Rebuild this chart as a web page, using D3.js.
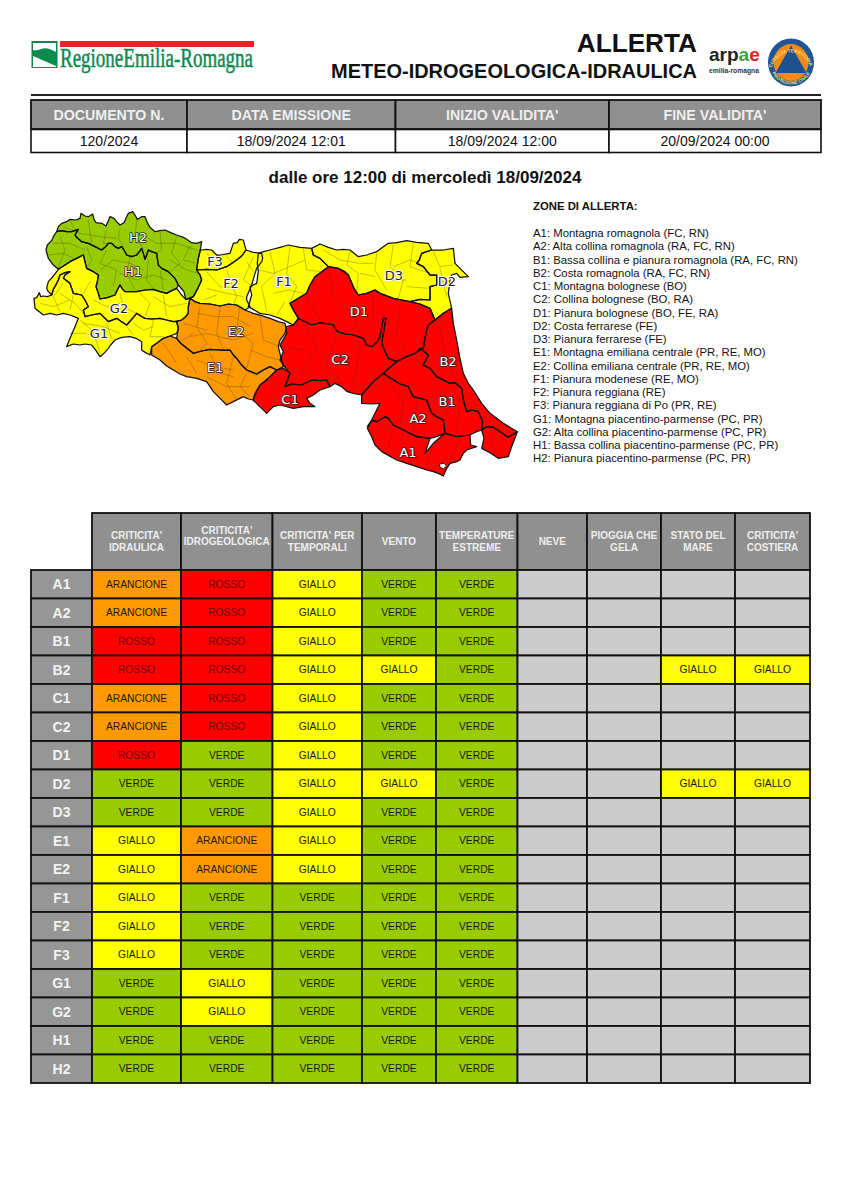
<!DOCTYPE html>
<html><head><meta charset="utf-8">
<script src="https://cdn.jsdelivr.net/npm/d3@7/dist/d3.min.js"></script>
<style>html,body{margin:0;background:#fff}svg{display:block}text{font-family:"Liberation Sans",Arial,sans-serif}</style>
</head><body><div id="c"></div>
<script>
// ---------- header data
const docHeaders=["DOCUMENTO N.","DATA EMISSIONE","INIZIO VALIDITA'","FINE VALIDITA'"];
const docValues=["120/2024","18/09/2024 12:01","18/09/2024 12:00","20/09/2024 00:00"];
const periodTitle="dalle ore 12:00 di mercoledì 18/09/2024";
const legendTitle="ZONE DI ALLERTA:";
const legendLines=["A1: Montagna romagnola (FC, RN)","A2: Alta collina romagnola (RA, FC, RN)","B1: Bassa collina e pianura romagnola (RA, FC, RN)","B2: Costa romagnola (RA, FC, RN)","C1: Montagna bolognese (BO)","C2: Collina bolognese (BO, RA)","D1: Pianura bolognese (BO, FE, RA)","D2: Costa ferrarese (FE)","D3: Pianura ferrarese (FE)","E1: Montagna emiliana centrale (PR, RE, MO)","E2: Collina emiliana centrale (PR, RE, MO)","F1: Pianura modenese (RE, MO)","F2: Pianura reggiana (RE)","F3: Pianura reggiana di Po (PR, RE)","G1: Montagna piacentino-parmense (PC, PR)","G2: Alta collina piacentino-parmense (PC, PR)","H1: Bassa collina piacentino-parmense (PC, PR)","H2: Pianura piacentino-parmense (PC, PR)"];
// ---------- table data
const zones=["A1","A2","B1","B2","C1","C2","D1","D2","D3","E1","E2","F1","F2","F3","G1","G2","H1","H2"];
const colHeaders=[["CRITICITA'","IDRAULICA"],["CRITICITA'","IDROGEOLOGICA",""],["CRITICITA' PER","TEMPORALI"],["VENTO"],["TEMPERATURE","ESTREME"],["NEVE"],["PIOGGIA CHE","GELA"],["STATO DEL","MARE"],["CRITICITA'","COSTIERA"]];
const V="VERDE",G="GIALLO",O="ARANCIONE",R="ROSSO",N="";
const idraulica=[O,O,R,R,O,O,R,V,V,G,G,G,G,G,V,V,V,V];
const idrogeologica=[R,R,R,R,R,R,V,V,V,O,O,V,V,V,G,G,V,V];
const temporali=[G,G,G,G,G,G,G,G,G,G,G,V,V,V,V,V,V,V];
const vento=[V,V,V,G,V,V,V,G,V,V,V,V,V,V,V,V,V,V];
const temperature=[V,V,V,V,V,V,V,V,V,V,V,V,V,V,V,V,V,V];
const neve=[N,N,N,N,N,N,N,N,N,N,N,N,N,N,N,N,N,N];
const pioggia=[N,N,N,N,N,N,N,N,N,N,N,N,N,N,N,N,N,N];
const mare=[N,N,N,G,N,N,N,G,N,N,N,N,N,N,N,N,N,N];
const costiera=[N,N,N,G,N,N,N,G,N,N,N,N,N,N,N,N,N,N];
const columns=[idraulica,idrogeologica,temporali,vento,temperature,neve,pioggia,mare,costiera];
const mapLevels=[R,R,R,R,R,R,R,G,G,O,O,G,G,G,G,G,V,V];
// ---------- map outlines (west and east survey frames)
const westZones={
H2:[[110,95],[115,80],[125,70],[140,65],[150,58],[168,60],[180,55],[183,40],[195,48],[205,50],[218,42],[222,58],[228,68],[245,70],[258,78],[265,62],[270,50],[282,55],[290,65],[300,75],[312,68],[318,55],[325,40],[338,35],[345,45],[352,58],[365,50],[375,50],[382,68],[390,82],[405,95],[420,92],[435,90],[452,98],[470,105],[490,112],[500,118],[515,128],[530,130],[545,125],[541,150],[535,175],[530,210],[540,225],[545,240],[535,262],[520,290],[497,298],[492,275],[475,255],[465,235],[445,215],[425,205],[415,195],[412,175],[410,160],[395,155],[385,150],[380,165],[375,178],[370,160],[365,145],[358,155],[350,165],[335,170],[320,165],[312,150],[305,140],[295,145],[285,140],[275,130],[265,130],[255,142],[245,150],[225,140],[205,130],[185,125],[170,112],[165,105],[175,88],[155,95],[140,95],[125,92]],
H1:[[78,150],[82,135],[95,122],[100,110],[110,95],[125,92],[140,95],[155,95],[175,88],[165,105],[170,112],[185,125],[205,130],[225,140],[245,150],[255,142],[265,130],[275,130],[285,140],[295,145],[305,140],[312,150],[320,165],[335,170],[350,165],[358,155],[365,145],[370,160],[375,178],[380,165],[385,150],[395,155],[410,160],[412,175],[415,195],[425,205],[445,215],[465,235],[475,255],[470,265],[455,272],[440,280],[420,275],[400,268],[375,270],[350,275],[335,275],[315,275],[308,268],[300,255],[293,268],[285,285],[262,293],[240,297],[235,280],[228,260],[232,245],[235,225],[220,215],[200,205],[195,185],[190,165],[170,175],[150,185],[135,195],[115,208],[100,195],[85,175]],
G2:[[190,165],[195,185],[200,205],[220,215],[235,225],[232,245],[228,260],[235,280],[240,297],[262,293],[285,285],[293,268],[300,255],[308,268],[315,275],[335,275],[350,275],[375,270],[400,268],[420,275],[440,280],[455,272],[470,265],[485,285],[497,298],[510,295],[505,320],[505,340],[495,352],[485,360],[460,365],[440,360],[420,355],[395,357],[375,355],[362,348],[350,340],[335,358],[320,375],[305,365],[290,355],[265,365],[250,350],[240,340],[215,345],[195,350],[190,330],[205,320],[195,300],[185,285],[160,280],[155,265],[150,250],[130,235],[135,225],[150,215],[135,218],[120,225],[115,240],[110,250],[100,268],[95,285],[85,275],[80,265],[85,245],[100,228],[115,208],[135,195],[150,185],[170,175]],
G1:[[42,295],[50,293],[58,278],[62,290],[70,288],[82,290],[95,285],[100,268],[110,250],[115,240],[120,225],[135,218],[150,215],[135,225],[130,235],[150,250],[155,265],[160,280],[185,285],[195,300],[205,320],[190,330],[195,350],[215,345],[240,340],[250,350],[265,365],[290,355],[305,365],[320,375],[335,358],[350,340],[362,348],[375,355],[395,357],[420,355],[440,360],[460,365],[470,365],[475,385],[470,400],[450,408],[430,415],[410,430],[395,440],[390,465],[372,455],[365,450],[365,425],[348,415],[330,410],[305,412],[285,420],[272,435],[265,445],[252,460],[240,470],[228,452],[215,435],[195,432],[180,435],[160,432],[140,440],[150,415],[165,380],[175,355],[150,345],[130,340],[110,345],[90,340],[70,345],[45,325]],
E1:[[395,440],[410,430],[430,415],[450,408],[470,415],[482,430],[495,440],[520,460],[545,453],[570,448],[600,450],[630,450],[640,465],[650,475],[665,495],[680,510],[710,522],[730,510],[750,500],[770,510],[745,535],[720,555],[710,575],[705,585],[700,600],[685,597],[670,590],[640,605],[620,615],[595,590],[580,575],[570,560],[560,545],[530,535],[500,530],[480,522],[460,510],[440,498],[420,480],[395,465]],
E2:[[510,295],[525,305],[540,310],[570,312],[600,318],[625,312],[650,315],[675,330],[700,340],[725,347],[750,355],[775,365],[795,370],[798,385],[795,400],[780,420],[775,440],[782,470],[790,500],[770,510],[750,500],[730,510],[710,522],[680,510],[665,495],[650,475],[640,465],[630,450],[600,450],[570,448],[545,453],[520,460],[495,440],[482,430],[470,415],[475,385],[470,365],[485,360],[495,352],[505,340],[505,320]],
F3:[[545,150],[560,148],[575,150],[590,165],[600,165],[630,160],[635,145],[640,130],[652,128],[658,118],[670,120],[678,150],[665,168],[650,180],[620,200],[590,210],[560,208],[530,210],[535,175],[541,150]],
F2:[[530,210],[560,208],[590,210],[620,200],[650,180],[665,168],[678,150],[700,157],[725,160],[728,175],[725,185],[710,205],[705,220],[695,255],[680,290],[680,300],[690,320],[675,330],[650,315],[625,312],[600,318],[570,312],[540,310],[525,305],[510,295],[520,290],[535,262],[545,240],[540,225]]};
const eastZones={
F1:[[-5,70],[10,65],[30,60],[60,52],[85,45],[120,52],[155,55],[160,75],[180,85],[205,110],[185,125],[165,140],[150,165],[140,190],[115,205],[90,220],[100,240],[115,265],[100,285],[80,275],[60,265],[30,255],[0,250],[-35,230],[-25,195],[-30,170],[-10,160],[-5,125],[-8,100]],
D3:[[155,55],[180,42],[205,52],[230,60],[250,58],[270,60],[295,80],[320,75],[350,65],[370,50],[385,40],[410,38],[440,32],[470,37],[505,40],[515,60],[500,65],[485,70],[478,90],[470,100],[490,110],[510,135],[530,135],[530,165],[510,170],[510,210],[480,208],[450,215],[400,205],[360,190],[345,180],[320,190],[295,195],[285,180],[280,170],[265,135],[235,115],[205,110],[180,85],[160,75]],
D2:[[515,60],[550,60],[580,55],[585,100],[600,115],[625,140],[600,142],[590,130],[575,135],[570,150],[565,190],[575,235],[550,250],[525,270],[510,235],[480,222],[450,215],[480,208],[510,210],[510,170],[530,165],[530,135],[510,135],[490,110],[470,100],[478,90],[485,70],[500,65]],
D1:[[205,110],[235,115],[255,125],[265,135],[280,170],[285,180],[295,195],[320,190],[345,180],[360,190],[400,205],[450,215],[480,222],[510,235],[525,270],[505,285],[500,300],[495,325],[490,355],[465,370],[440,380],[410,395],[385,385],[375,365],[365,340],[370,310],[378,265],[370,265],[360,320],[352,335],[335,350],[320,345],[310,325],[280,315],[255,312],[232,305],[220,285],[205,282],[180,278],[155,285],[125,270],[115,265],[100,240],[90,220],[115,205],[140,190],[150,165],[165,140],[185,125]],
C2:[[115,265],[125,270],[155,285],[180,278],[205,282],[220,285],[232,305],[255,312],[280,315],[310,325],[320,345],[335,350],[352,335],[360,320],[370,265],[378,265],[370,310],[365,340],[375,365],[385,385],[410,395],[390,412],[370,430],[340,455],[322,475],[305,495],[280,490],[262,485],[245,470],[225,460],[210,470],[200,450],[180,452],[155,450],[125,465],[95,462],[75,470],[90,430],[70,405],[60,390],[70,365],[60,345],[80,310],[78,290],[100,285]],
C1:[[51,420],[70,415],[90,430],[75,470],[95,462],[125,465],[155,450],[180,452],[200,450],[210,470],[180,480],[160,495],[140,505],[150,520],[165,530],[130,530],[100,535],[60,525],[40,530],[20,550],[5,535],[-21,510],[-15,490],[0,465],[20,450],[30,440]],
B2:[[525,270],[550,250],[575,235],[580,280],[590,330],[600,385],[610,430],[625,460],[640,480],[665,520],[690,550],[730,580],[772,605],[745,622],[700,592],[680,590],[665,600],[668,575],[655,545],[635,540],[620,545],[610,510],[605,475],[585,458],[570,460],[530,440],[510,415],[490,405],[505,375],[480,355],[490,355],[495,325],[500,300],[505,285]],
B1:[[370,430],[390,412],[410,395],[440,380],[465,370],[480,355],[505,375],[490,405],[510,415],[530,440],[570,460],[585,458],[605,475],[610,510],[620,545],[635,540],[655,545],[668,575],[665,600],[650,605],[630,615],[590,620],[555,610],[550,570],[530,560],[515,550],[500,510],[480,505],[460,500],[445,470],[420,462],[400,450]],
A2:[[340,455],[370,430],[400,450],[420,462],[445,470],[460,500],[480,505],[500,510],[515,550],[530,560],[550,570],[555,610],[530,620],[510,625],[470,620],[430,600],[400,585],[385,565],[375,560],[350,575],[335,570],[322,590],[335,570],[360,520],[335,522],[305,520],[305,495],[322,475]],
A1:[[322,595],[335,572],[350,575],[375,560],[385,565],[400,585],[430,600],[470,620],[510,625],[495,670],[520,640],[555,610],[590,620],[630,615],[632,645],[650,650],[620,660],[610,670],[600,690],[590,695],[570,700],[560,715],[550,738],[535,730],[520,725],[500,720],[470,710],[440,700],[410,690],[365,665],[345,645],[335,620]],
A1b:[[665,600],[680,590],[700,592],[745,622],[772,605],[755,650],[745,680],[715,685],[690,668],[665,655],[672,625]]};
const lakes=[[[538,702],[552,700],[560,708],[550,716],[540,712]]];
const westComuni=[[[150,60],[160,80],[170,95]],[[205,60],[210,95],[215,128]],[[260,85],[250,130],[265,130]],[[300,85],[295,115],[310,140]],[[350,60],[345,110],[370,145]],[[420,95],[425,150],[410,160]],[[470,110],[455,160],[480,190],[450,215]],[[510,140],[490,180],[530,190]],[[120,110],[135,150],[115,205]],[[85,165],[130,160],[160,175]],[[200,140],[215,180],[200,205]],[[260,150],[240,190],[290,210],[280,260]],[[330,170],[320,220],[345,270]],[[385,180],[380,240],[400,265]],[[420,210],[430,270]],[[130,250],[100,290],[120,335]],[[160,285],[150,330]],[[210,245],[190,280]],[[300,280],[310,320],[350,340]],[[360,280],[390,310],[375,350]],[[430,285],[440,350]],[[180,360],[220,395],[240,460]],[[260,370],[275,415]],[[320,380],[340,405]],[[400,360],[390,410],[430,410]],[[150,400],[200,400]],[[560,160],[590,195]],[[620,170],[640,190]],[[560,215],[600,260],[660,265]],[[620,210],[650,290],[640,315]],[[680,185],[700,215]],[[540,320],[530,380],[560,430],[540,450]],[[600,325],[590,400],[610,448]],[[660,320],[650,390],[700,430],[680,505]],[[720,350],[730,420],[780,440]],[[490,370],[560,390]],[[480,425],[520,400]],[[500,470],[530,520]],[[570,460],[600,520],[640,530]],[[640,470],[620,550],[650,600]],[[680,520],[660,560],[690,590]],[[430,430],[470,490]],[[130,80],[180,100],[240,110],[290,115]],[[360,100],[410,130],[470,130],[530,150]],[[100,130],[150,130],[195,150]],[[240,210],[280,180],[330,190],[370,210]],[[300,220],[350,240],[400,225],[440,240]],[[450,180],[500,210],[535,220]],[[220,300],[260,320],[300,310]],[[120,280],[165,310],[200,350]],[[60,310],[100,320],[150,300]],[[190,370],[250,380],[300,400]],[[340,370],[370,390],[400,380]],[[400,290],[450,320],[500,310]],[[530,340],[590,350],[640,350],[690,380]],[[510,410],[560,400],[640,420],[700,400]],[[690,450],[740,470],[780,480]],[[530,480],[580,500],[640,510]],[[560,530],[620,560],[690,560]],[[560,265],[620,280],[670,290]],[[550,300],[590,285]],[[700,170],[670,240],[700,260]]];
const eastComuni=[[[30,65],[45,130],[5,170],[20,245]],[[90,50],[80,130],[110,170],[90,220]],[[130,55],[140,120],[185,125]],[[-5,120],[40,130],[90,110],[135,90]],[[40,190],[85,180],[130,190]],[[50,255],[75,215]],[[270,65],[260,105],[295,130],[290,190]],[[350,70],[345,120],[380,180]],[[400,45],[390,110],[430,150],[415,205]],[[460,40],[450,110],[510,130]],[[345,140],[300,130]],[[440,170],[505,175]],[[520,65],[540,110],[580,105]],[[540,115],[560,200]],[[130,275],[170,350],[120,440]],[[230,320],[200,400],[250,465]],[[300,330],[290,420],[270,485]],[[60,350],[130,360]],[[210,130],[220,200],[280,250],[300,310]],[[140,200],[180,270]],[[340,200],[340,280]],[[420,220],[410,310],[440,370]],[[380,440],[430,520],[420,590]],[[470,520],[460,610]],[[530,470],[560,540],[550,600]],[[600,500],[590,610]],[[400,600],[380,670]],[[520,640],[500,710]],[[600,630],[570,690]],[[690,610],[710,680]],[[540,290],[560,400],[600,470]],[[190,60],[240,90],[300,100],[340,100]],[[400,110],[450,90],[480,100]],[[380,150],[440,150]]];
const mapLabels=[["H2",354,111],["H1",339,213],["F3",585,183],["F2",633,249],["F1",792,243],["D3",1122,225],["D2",1281,243],["G2",297,324],["G1",237,399],["E2",648,393],["E1",585,501],["D1",1017,333],["C2",960,477],["C1",810,597],["B2",1284,483],["B1",1281,603],["A2",1194,654],["A1",1164,756]];

// ---------- drawing
const levelFill={VERDE:"#99cc00",GIALLO:"#ffff00",ARANCIONE:"#ff9900",ROSSO:"#ff0000","":"#cccccc"};
const svg=d3.select("#c").append("svg").attr("width",848).attr("height",1200);

/* Regione logo */
const logo=svg.append("g");
logo.append("rect").attr("x",60).attr("y",41).attr("width",194).attr("height",6).attr("fill","#e8262a");
logo.append("rect").attr("x",31.5).attr("y",41).attr("width",26).attr("height",27).attr("fill","#0b8a4e");
logo.append("path").attr("d","M33 43H56V52C50 49 46 47 41 49C38 50 35 51 33 50Z").attr("fill","#fff");
logo.append("path").attr("d","M33 56L56 66V67H33Z").attr("fill","#fff");
logo.append("text").attr("x",60).attr("y",67).attr("font-size",27).attr("fill","#0b8a4e")
 .attr("textLength",193).attr("lengthAdjust","spacingAndGlyphs")
 .style("font-family","'Liberation Serif',serif").style("stroke","#0b8a4e").style("stroke-width",.5).text("RegioneEmilia-Romagna");

/* Titles */
svg.append("text").attr("x",697).attr("y",52).attr("text-anchor","end").attr("font-size",26.2).attr("font-weight","bold").attr("fill","#111").text("ALLERTA");
svg.append("text").attr("x",697).attr("y",78).attr("text-anchor","end").attr("font-size",19.6).attr("font-weight","bold").attr("fill","#111")
 .attr("textLength",366).attr("lengthAdjust","spacingAndGlyphs").text("METEO-IDROGEOLOGICA-IDRAULICA");

/* Arpae logo */
const arpae=svg.append("text").attr("x",709).attr("y",61).attr("font-size",19).attr("font-weight","bold");
arpae.append("tspan").attr("fill","#222").text("arp");
arpae.append("tspan").attr("fill","#3aa535").text("a");
arpae.append("tspan").attr("fill","#e2231a").text("e");
svg.append("text").attr("x",709).attr("y",73).attr("font-size",6.6).attr("font-weight","bold").attr("fill","#333").attr("textLength",50).attr("lengthAdjust","spacingAndGlyphs").text("emilia-romagna");

/* Protezione civile badge */
const pc=svg.append("g").attr("transform","translate(791,62.5)");
pc.append("ellipse").attr("rx",23).attr("ry",24).attr("fill","#1d5596");
pc.append("ellipse").attr("rx",17.5).attr("ry",18.5).attr("fill","#f08a1d");
pc.append("path").attr("d",d3.line()([[0,-17],[15.5,10.5],[-15.5,10.5]])+"Z").attr("fill","#1d4f93");
const defs=svg.append("defs");
defs.append("path").attr("id","arcTop").attr("d","M-19 5A19.5 19.5 0 0 1 19 5");
defs.append("path").attr("id","arcBot").attr("d","M-21 5A21.5 21.5 0 0 0 21 5");
pc.append("text").attr("font-size",4.6).attr("font-weight","bold").attr("fill","#ffdf60").attr("text-anchor","middle").append("textPath").attr("href","#arcTop").attr("startOffset","50%").text("SICUREZZA TERRITORIALE");
pc.append("text").attr("font-size",4.6).attr("font-weight","bold").attr("fill","#ffdf60").attr("text-anchor","middle").append("textPath").attr("href","#arcBot").attr("startOffset","50%").text("PROTEZIONE CIVILE");

/* Rule + document table */
svg.append("line").attr("x1",31).attr("x2",821).attr("y1",95).attr("y2",95).attr("stroke","#222").attr("stroke-width",1.8);
const docEdges=[31,187,395.5,609,821];
const docX=d3.scaleOrdinal(docHeaders,docEdges);
const docW=(d,i)=>docEdges[i+1]-docEdges[i];
const docHead=svg.append("g").selectAll("g").data(docHeaders).join("g");
docHead.append("rect").attr("x",d=>docX(d)).attr("y",100).attr("width",docW).attr("height",29).attr("fill","#909090").attr("stroke","#111").attr("stroke-width",1.8);
docHead.append("text").attr("x",(d,i)=>docX(d)+docW(d,i)/2).attr("y",115).attr("dy",".35em").attr("text-anchor","middle").attr("font-size",14.2).attr("font-weight","bold").attr("fill","#eee").text(d=>d);
const docVal=svg.append("g").selectAll("g").data(docValues).join("g");
docVal.append("rect").attr("x",(d,i)=>docEdges[i]).attr("y",129.5).attr("width",(d,i)=>docEdges[i+1]-docEdges[i]).attr("height",23).attr("fill","#fff").attr("stroke","#111").attr("stroke-width",1.6);
docVal.append("text").attr("x",(d,i)=>(docEdges[i]+docEdges[i+1])/2).attr("y",141.5).attr("dy",".35em").attr("text-anchor","middle").attr("font-size",14).attr("fill","#111").text(d=>d);

svg.append("text").attr("x",425).attr("y",177).attr("dy",".35em").attr("text-anchor","middle").attr("font-size",17).attr("font-weight","bold").attr("fill","#111").text(periodTitle);

/* Map */
const line=d3.line();
const xW=d3.scaleLinear([0,810],[20,290]), yW=d3.scaleLinear([0,660],[200,420]);
const xE=d3.scaleLinear([0,810],[260,530]), yE=d3.scaleLinear([0,750],[230,480]);
const pW=p=>[xW(p[0]),yW(p[1])], pE=p=>[xE(p[0]),yE(p[1])];
const zoneLevel=k=>mapLevels[zones.indexOf(k.slice(0,2))];
const map=svg.append("g").attr("stroke-linejoin","round");
const zoneEntries=[...Object.entries(westZones).map(([k,v])=>[k,v.map(pW)]),...Object.entries(eastZones).map(([k,v])=>[k,v.map(pE)])];
map.selectAll("path.z").data(zoneEntries).join("path").attr("class","z").attr("d",d=>line(d[1])+"Z").attr("fill",d=>levelFill[zoneLevel(d[0])]);
map.selectAll("path.c").data([...westComuni.map(l=>l.map(pW)),...eastComuni.map(l=>l.map(pE))]).join("path").attr("class","c").attr("d",line).attr("fill","none").attr("stroke","#333").attr("stroke-opacity",.55).attr("stroke-width",.55);
map.selectAll("path.b").data(zoneEntries).join("path").attr("class","b").attr("d",d=>line(d[1])+"Z").attr("fill","none").attr("stroke","#111").attr("stroke-width",1.25);
map.selectAll("path.l").data(lakes.map(l=>l.map(pE))).join("path").attr("class","l").attr("d",d=>line(d)+"Z").attr("fill","#fff").attr("stroke","#111").attr("stroke-width",.9);
map.append("g").selectAll("text").data(mapLabels).join("text")
 .attr("x",d=>xW(d[1])).attr("y",d=>yW(d[2])).attr("dy",".36em").attr("text-anchor","middle")
 .attr("font-size",13).style("font-family","'DejaVu Sans',sans-serif").style("paint-order","stroke")
 .attr("fill",d=>zoneLevel(d[0])===G?"#222":"#fff").attr("stroke",d=>zoneLevel(d[0])===G?"#fff":"#222").attr("stroke-width",d=>zoneLevel(d[0])===G?2.2:1.6)
 .text(d=>d[0]);

/* Legend */
const legend=svg.append("g").attr("font-size",11.35).attr("fill","#111");
legend.append("text").attr("x",533).attr("y",206).attr("dy",".35em").attr("font-weight","bold").text(legendTitle);
const legY=d3.scalePoint(legendLines,[233,458.5]);
legend.selectAll("text.l").data(legendLines).join("text").attr("class","l").attr("x",533).attr("y",d=>legY(d)).attr("dy",".35em").text(d=>d);

/* Table */
const colEdges=[92,181,272.5,362,436,517.5,587,661,735,810];
const rowY=d3.scaleBand(zones,[570,1083]);
const colKeys=d3.range(columns.length);
const colX=d3.scaleOrdinal(colKeys,colEdges);
const colW=i=>colEdges[i+1]-colEdges[i];
const tbl=svg.append("g");
const headG=tbl.append("g").selectAll("g").data(colHeaders).join("g");
headG.append("rect").attr("x",(d,i)=>colX(i)).attr("y",513).attr("width",(d,i)=>colW(i)).attr("height",57).attr("fill","#909090").attr("stroke","#111").attr("stroke-width",1.8);
headG.selectAll("text").data((d,i)=>d.map((t,j)=>({t,j,n:d.length,i}))).join("text")
 .attr("x",d=>colX(d.i)+colW(d.i)/2).attr("y",d=>541.5+(d.j-(d.n-1)/2)*11.5).attr("dy",".35em").attr("text-anchor","middle")
 .attr("font-size",10).attr("font-weight","bold").attr("fill","#eee").text(d=>d.t);
const rowG=tbl.append("g").selectAll("g").data(zones).join("g");
rowG.append("rect").attr("x",31).attr("y",d=>rowY(d)).attr("width",61).attr("height",rowY.bandwidth()).attr("fill","#969696").attr("stroke","#111").attr("stroke-width",1.8);
rowG.append("text").attr("x",61.5).attr("y",d=>rowY(d)+rowY.bandwidth()/2).attr("dy",".36em").attr("text-anchor","middle").attr("font-size",14).attr("font-weight","bold").attr("fill","#f2f2f2").text(d=>d);
const cells=columns.flatMap((vals,i)=>vals.map((v,r)=>({v,i,z:zones[r]})));
const cellG=tbl.append("g").selectAll("g").data(cells).join("g");
cellG.append("rect").attr("x",d=>colX(d.i)).attr("y",d=>rowY(d.z)).attr("width",d=>colW(d.i)).attr("height",rowY.bandwidth()).attr("fill",d=>levelFill[d.v]).attr("stroke","#111").attr("stroke-width",1.8);
cellG.append("text").attr("x",d=>colX(d.i)+colW(d.i)/2).attr("y",d=>rowY(d.z)+rowY.bandwidth()/2).attr("dy",".35em").attr("text-anchor","middle").attr("font-size",10.3).attr("fill",d=>d.v===R?"#6a0000":"#1a1a00").text(d=>d.v);
</script></body></html>
